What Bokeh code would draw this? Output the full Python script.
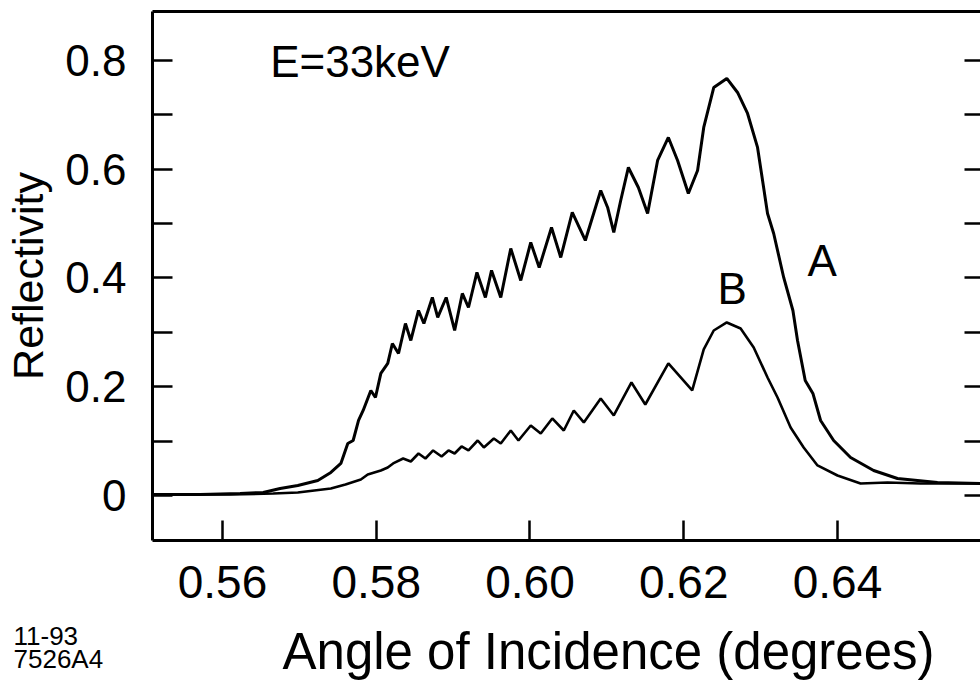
from bokeh.plotting import figure
from bokeh.layouts import column, row
from bokeh.models import Range1d, FixedTicker, LinearAxis, Label
from bokeh.embed import file_html
from bokeh.resources import INLINE

# ---- data ----
angle_a = [0.5509, 0.5571, 0.5623, 0.5653, 0.5675, 0.5698, 0.5724, 0.5741, 0.5754, 0.5763,
           0.5770, 0.5777, 0.5783, 0.5793, 0.5799, 0.5806, 0.5815, 0.5821, 0.5829, 0.5838,
           0.5845, 0.5855, 0.5862, 0.5873, 0.5880, 0.5891, 0.5902, 0.5912, 0.5920, 0.5931,
           0.5942, 0.5950, 0.5962, 0.5975, 0.5988, 0.6001, 0.6012, 0.6028, 0.6040, 0.6055,
           0.6072, 0.6092, 0.6101, 0.6109, 0.6118, 0.6128, 0.6141, 0.6153, 0.6166, 0.6180,
           0.6192, 0.6206, 0.6218, 0.6226, 0.6239, 0.6256, 0.6270, 0.6283, 0.6296, 0.6309,
           0.6317, 0.6330, 0.6342, 0.6348, 0.6358, 0.6368, 0.6378, 0.6395, 0.6417, 0.6447,
           0.6478, 0.6530, 0.6586]
refl_a = [0.0018, 0.0018, 0.0037, 0.0055, 0.0129, 0.0184, 0.0276, 0.0423, 0.0589, 0.0956,
          0.1011, 0.1379, 0.1563, 0.1931, 0.1802, 0.2244, 0.2428, 0.2795, 0.2611, 0.3163,
          0.2851, 0.3402, 0.3163, 0.3641, 0.3274, 0.3641, 0.3034, 0.3715, 0.3457, 0.4101,
          0.3641, 0.4138, 0.3641, 0.4543, 0.3954, 0.4653, 0.4193, 0.4929, 0.4377, 0.5205,
          0.4690, 0.5609, 0.5296, 0.4837, 0.5425, 0.6032, 0.5664, 0.5186, 0.6161, 0.6584,
          0.6161, 0.5554, 0.5977, 0.6768, 0.7502, 0.7669, 0.7411, 0.7025, 0.6400, 0.5186,
          0.4818, 0.4009, 0.3402, 0.2851, 0.2115, 0.1876, 0.1379, 0.1011, 0.0699, 0.0460,
          0.0313, 0.0239, 0.0221]

angle_b = [0.5509, 0.5610, 0.5666, 0.5698, 0.5741, 0.5760, 0.5780, 0.5789, 0.5806, 0.5815,
           0.5822, 0.5835, 0.5845, 0.5855, 0.5864, 0.5874, 0.5885, 0.5894, 0.5902, 0.5911,
           0.5920, 0.5932, 0.5940, 0.5953, 0.5962, 0.5975, 0.5985, 0.6001, 0.6014, 0.6029,
           0.6044, 0.6057, 0.6070, 0.6092, 0.6109, 0.6132, 0.6150, 0.6180, 0.6211, 0.6226,
           0.6239, 0.6256, 0.6274, 0.6291, 0.6309, 0.6322, 0.6339, 0.6356, 0.6374, 0.6400,
           0.6430, 0.6465, 0.6508, 0.6586]
refl_b = [0.0018, 0.0018, 0.0037, 0.0055, 0.0129, 0.0202, 0.0294, 0.0386, 0.0460, 0.0515,
          0.0589, 0.0680, 0.0625, 0.0772, 0.0680, 0.0828, 0.0717, 0.0828, 0.0772, 0.0901,
          0.0828, 0.1011, 0.0883, 0.1048, 0.0956, 0.1195, 0.1011, 0.1287, 0.1140, 0.1416,
          0.1195, 0.1563, 0.1343, 0.1784, 0.1471, 0.2078, 0.1673, 0.2428, 0.1931, 0.2685,
          0.3034, 0.3182, 0.3071, 0.2722, 0.2170, 0.1802, 0.1251, 0.0883, 0.0552, 0.0368,
          0.0221, 0.0239, 0.0221, 0.0221]

x_ticks = [0.56, 0.58, 0.60, 0.62, 0.64]
x_tick_labels = ["0.56", "0.58", "0.60", "0.62", "0.64"]
y_ticks = [0.0, 0.2, 0.4, 0.6, 0.8]
y_tick_labels = ["0", "0.2", "0.4", "0.6", "0.8"]
y_minor_ticks = [0.1, 0.3, 0.5, 0.7]
y_all_ticks = [0.0, 0.1, 0.2, 0.3, 0.4, 0.5, 0.6, 0.7, 0.8]

x_title = "Angle of Incidence  (degrees)"
y_title = "Reflectivity"
energy_text = "E=33keV"
curve_names = ["A", "B"]
name_pos_x = [0.6361, 0.6244]
name_pos_y = [0.432, 0.381]
energy_pos = (0.5662, 0.798)
stamp_lines = ["11-93", "7526A4"]

FONT = "Liberation Sans"

p = figure(width=980, height=618, output_backend="svg", toolbar_location=None,
           x_range=Range1d(0.5509, 0.6586), y_range=Range1d(-0.0828, 0.890),
           x_axis_location=None, y_axis_location=None,
           min_border_left=152, min_border_right=0, min_border_top=11,
           min_border_bottom=78)
p.outline_line_color = None
p.background_fill_color = "white"
p.border_fill_color = "white"
for g in p.grid:
    g.visible = False

common = dict(axis_line_color="black", axis_line_width=3,
              major_tick_line_color="black", major_tick_line_width=2.5,
              minor_tick_line_color="black", minor_tick_line_width=2.5,
              major_label_text_font=FONT, axis_label_text_font=FONT,
              major_label_text_color="black", axis_label_text_color="black",
              axis_label_text_font_style="normal")

xaxis = LinearAxis(ticker=FixedTicker(ticks=x_ticks, minor_ticks=[]),
                   major_label_overrides=dict(zip(x_ticks, x_tick_labels)),
                   major_tick_in=20, major_tick_out=0,
                   minor_tick_in=0, minor_tick_out=0,
                   major_label_text_font_size="46px",
                   major_label_standoff=25, **common)
p.add_layout(xaxis, "below")

yaxis = LinearAxis(ticker=FixedTicker(ticks=y_ticks, minor_ticks=y_minor_ticks),
                   major_label_overrides=dict(zip(y_ticks, y_tick_labels)),
                   axis_label=y_title, major_tick_in=20, major_tick_out=0,
                   minor_tick_in=20, minor_tick_out=0,
                   major_label_text_font_size="44px", axis_label_text_font_size="43px",
                   major_label_standoff=26, axis_label_standoff=10, **common)
p.add_layout(yaxis, "left")

# right frame edge: tick marks only (no labels, no line)
raxis = LinearAxis(ticker=FixedTicker(ticks=[], minor_ticks=y_all_ticks),
                   major_tick_in=0, major_tick_out=0, minor_tick_in=16, minor_tick_out=0,
                   major_label_standoff=0, **{**common, "axis_line_color": None})
p.add_layout(raxis, "right")

# top frame edge: line only
taxis = LinearAxis(ticker=FixedTicker(ticks=[], minor_ticks=[]),
                   major_tick_in=0, major_tick_out=0, minor_tick_in=0, minor_tick_out=0,
                   major_label_standoff=0, **common)
p.add_layout(taxis, "above")

p.line(angle_a, refl_a, line_color="black", line_width=3)
p.line(angle_b, refl_b, line_color="black", line_width=2.6)

p.add_layout(Label(x=energy_pos[0], y=energy_pos[1], text=energy_text,
                   text_font=FONT, text_font_size="44px", text_color="black",
                   text_baseline="middle"))
for nm, nx, ny in zip(curve_names, name_pos_x, name_pos_y):
    p.add_layout(Label(x=nx, y=ny, text=nm, text_font=FONT, text_font_size="44px",
                       text_color="black", text_baseline="middle"))

# bottom strip: x-axis title and figure stamp
q = figure(width=980, height=68, output_backend="svg", toolbar_location=None,
           x_range=Range1d(0, 980), y_range=Range1d(0, 68),
           x_axis_location=None, y_axis_location=None, min_border=0)
q.outline_line_color = None
q.background_fill_color = "white"
q.border_fill_color = "white"
for g in q.grid:
    g.visible = False

q.add_layout(Label(x=282, y=35.5, x_units="screen", y_units="screen", text=x_title,
                   text_font=FONT, text_font_size="51px", text_color="black",
                   text_baseline="middle", text_align="left"))
for i, s in enumerate(stamp_lines):
    q.add_layout(Label(x=13, y=51 - 23.5 * i, x_units="screen", y_units="screen",
                       text=s, text_font=FONT, text_font_size="26px",
                       text_color="black", text_baseline="middle", text_align="left"))

layout = column(p, row(q), spacing=0)
open("out.html", "w").write(file_html(layout, INLINE))
